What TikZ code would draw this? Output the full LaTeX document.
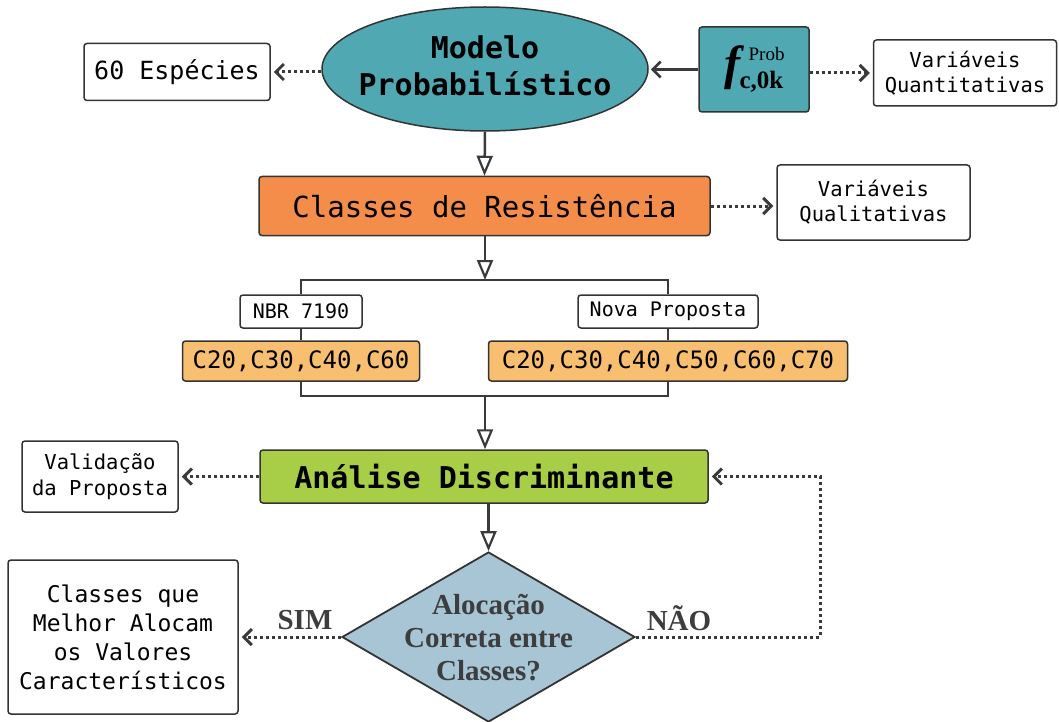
\documentclass[tikz,border=0pt]{standalone}
\usepackage{fontspec}
\setmonofont{DejaVu Sans Mono}
\newfontfamily\serifb{Liberation Serif}
\usetikzlibrary{shapes.geometric,arrows.meta}
\definecolor{teal1}{HTML}{50A8B2}
\definecolor{orange1}{HTML}{F48C4A}
\definecolor{lorange}{HTML}{F8BF70}
\definecolor{green1}{HTML}{A8CD47}
\definecolor{blue1}{HTML}{A7C5D4}
\definecolor{bordc}{HTML}{333333}
\definecolor{linec}{HTML}{3A3A3A}
\definecolor{txtg}{HTML}{3D3D3D}
\begin{document}
\begin{tikzpicture}[x=1pt,y=-1pt,
  box/.style={draw=bordc,line width=1.5pt,rounded corners=3pt,fill=white,inner sep=0pt,align=center},
  conn/.style={draw=linec,line width=2.5pt},
  tri/.style={conn,-{Triangle[open,length=20pt,width=16pt,line width=2.2pt]}},
  barb/.style={conn,-{Straight Barb[length=8pt,width=16pt,line width=2.8pt]},shorten >=2pt},
  dotarrow/.style={draw=linec,line width=3pt,dash pattern=on 3pt off 3pt,
     -{Straight Barb[length=8pt,width=16pt,line width=3pt]},shorten >=3pt}]
\useasboundingbox (0,0) rectangle (1059,722);
% top row
\node[ellipse,draw=bordc,line width=1.5pt,fill=teal1,minimum width=326pt,minimum height=124pt,inner sep=0pt] (mp) at (485,69) {};
\node[font=\ttfamily\bfseries\fontsize{30}{37}\selectfont,align=center] (mpt) at (485,66) {Modelo\\Probabilístico};
\node[box,minimum width=186pt,minimum height=57pt,font=\ttfamily\fontsize{25}{30}\selectfont] (sp) at (177,72) {60 Espécies};
\node[box,fill=teal1,minimum width=110pt,minimum height=85pt] (fk) at (754,69.5)
  {{\serifb\bfseries\itshape\fontsize{48}{48}\selectfont f}\kern-1pt{\serifb\rlap{\kern9pt\raisebox{19pt}{\fontsize{19}{19}\selectfont Prob}}\raisebox{-9pt}{\fontsize{25}{25}\selectfont\bfseries c,0k}}};
\node[box,minimum width=183pt,minimum height=66pt,font=\ttfamily\fontsize{20.5}{25}\selectfont] (vq) at (965,73) {Variáveis\\Quantitativas};
% classes
\node[box,fill=orange1,minimum width=451pt,minimum height=59pt,font=\ttfamily\fontsize{29}{35}\selectfont] (cr) at (484.5,206) {Classes de Resistência};
\node[box,minimum width=193pt,minimum height=75pt,font=\ttfamily\fontsize{20.5}{25}\selectfont] (vql) at (873.5,202.5) {Variáveis\\Qualitativas};
\node[box,minimum width=122pt,minimum height=33pt,font=\ttfamily\fontsize{20}{24}\selectfont] (nbr) at (301,311.5) {NBR 7190};
\node[box,minimum width=180pt,minimum height=33pt,font=\ttfamily\fontsize{20}{24}\selectfont] (np) at (668,311.5) {Nova Proposta};
\node[box,fill=lorange,minimum width=237pt,minimum height=40pt,font=\ttfamily\fontsize{24}{28}\selectfont] (c1) at (301,361) {C20,C30,C40,C60};
\node[box,fill=lorange,minimum width=359pt,minimum height=40pt,font=\ttfamily\fontsize{24}{28}\selectfont] (c2) at (668,361) {C20,C30,C40,C50,C60,C70};
% analysis
\node[box,fill=green1,minimum width=448pt,minimum height=53pt,font=\ttfamily\bfseries\fontsize{30}{36}\selectfont] (ad) at (484,476.5) {Análise Discriminante};
\node[box,minimum width=156pt,minimum height=71pt,font=\ttfamily\fontsize{20.5}{26}\selectfont] (vp) at (100,476.5) {Validação\\da Proposta};
\node[diamond,draw=bordc,line width=1.8pt,fill=blue1,minimum width=293pt,minimum height=170pt,inner sep=0pt] (dm) at (488.5,637) {};
\node[font=\serifb\bfseries\fontsize{29}{33}\selectfont,text=txtg,align=center] (dmt) at (488.5,638) {Alocação\\Correta entre\\Classes?};
\node[box,minimum width=230pt,minimum height=154pt,font=\ttfamily\fontsize{23}{29}\selectfont] (cq) at (123,637) {Classes que\\Melhor Alocam\\os Valores\\Característicos};
\node[font=\serifb\bfseries\fontsize{29}{29}\selectfont,text=txtg,anchor=base] (sim) at (305,629) {SIM};
\node[font=\serifb\bfseries\fontsize{29}{29}\selectfont,text=txtg,anchor=base] (nao) at (679,630) {NÃO};
% connectors
\draw[barb] (fk.west) -- (fk.west -| mp.east);
\draw[dotarrow] (sp.east -| mp.west) -- (sp.east);
\draw[dotarrow] (vq.west -| fk.east) -- (vq.west);
\draw[tri] (mp.south) -- (cr.north);
\draw[dotarrow] (cr.east) -- (cr.east -| vql.west);
\coordinate (t) at (485,280);
\draw[tri] (cr.south -| t) -- (t);
\draw[conn] (nbr.north) -- (nbr.north |- t) -- (np.north |- t) -- (np.north);
\draw[conn] (nbr.south) -- (c1.north);
\draw[conn] (np.south) -- (c2.north);
\coordinate (b) at (485,396);
\draw[conn] (c1.south) -- (c1.south |- b) -- (c2.south |- b) -- (c2.south);
\draw[tri] (b) -- (ad.north -| b);
\draw[dotarrow] (ad.west) -- (vp.east);
\draw[tri] (ad.south -| dm.north) -- (dm.north);
\draw[dotarrow] (dm.west) -- (cq.east);
\coordinate (nr) at (820,637);
\draw[dotarrow] (dm.east) -- (nr) |- (ad.east);
\end{tikzpicture}
\end{document}
